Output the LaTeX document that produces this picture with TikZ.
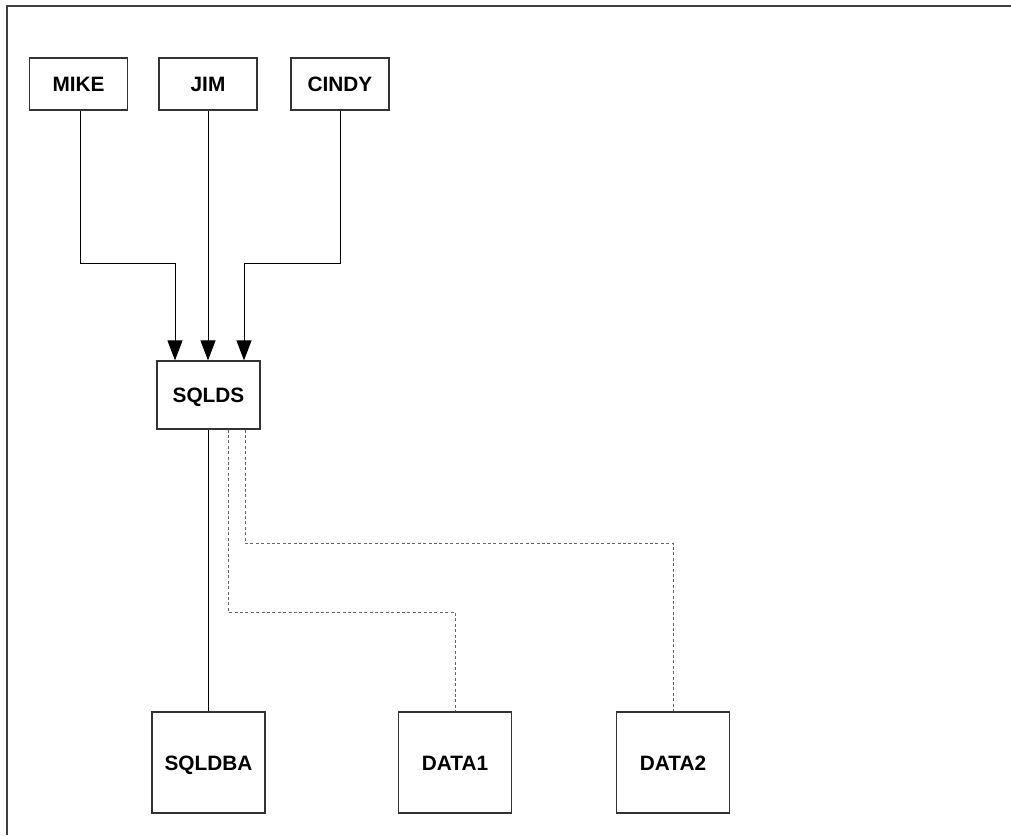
\documentclass[tikz,border=0pt]{standalone}
\usepackage{fontspec}
\setmainfont{Liberation Sans}
\usetikzlibrary{arrows.meta}
\begin{document}
\begin{tikzpicture}[x=1pt,y=-1pt,
  box/.style={draw=black!80, line width=1.2pt, fill=white, inner sep=0pt,
    text height=15pt, text depth=0pt,
    font=\fontsize{20.8}{24}\selectfont\bfseries},
  topbox/.style={box, minimum width=98pt, minimum height=52pt},
  midbox/.style={box, minimum width=103pt, minimum height=68pt},
  lowbox/.style={box, minimum width=113pt, minimum height=101pt},
  conn/.style={draw=black, line width=1pt},
  arr/.style={conn, -{Triangle[length=20pt,width=15pt]}},
  dashconn/.style={draw=black!60, line width=1pt, dash pattern=on 3pt off 2.4pt}]
\useasboundingbox (0,0) rectangle (1011,835);
% frame (top and left only)
\draw[line width=2pt, draw=black!75] (7,835) -- (7,6) -- (1011,6);
% nodes
\node[topbox] (MIKE)  at (78.5,84) {MIKE};
\node[topbox] (JIM)   at (208,84)  {JIM};
\node[topbox] (CINDY) at (340,84)  {CINDY};
\node[midbox] (SQLDS) at (208.5,395) {SQLDS};
\node[lowbox] (SQLDBA) at (208.5,762.5) {SQLDBA};
\node[lowbox] (DATA1)  at (455,762.5) {DATA1};
\node[lowbox] (DATA2)  at (673,762.5) {DATA2};
% bend coordinates
\coordinate (m1) at (175,263);
\coordinate (c1) at (244,263);
\coordinate (d1) at (228,612);
\coordinate (d2) at (245,543);
% connectors
\draw[arr] ([xshift=1.5pt]MIKE.south) |- (m1) -- (m1 |- SQLDS.north);
\draw[arr] (JIM.south) -- (JIM.south |- SQLDS.north);
\draw[arr] (CINDY.south) |- (c1) -- (c1 |- SQLDS.north);
\draw[conn] (SQLDS.south) -- (SQLDBA.north);
\draw[dashconn] (d1 |- SQLDS.south) -- (d1) -| (DATA1.north);
\draw[dashconn] (d2 |- SQLDS.south) -- (d2) -| (DATA2.north);
\end{tikzpicture}
\end{document}
